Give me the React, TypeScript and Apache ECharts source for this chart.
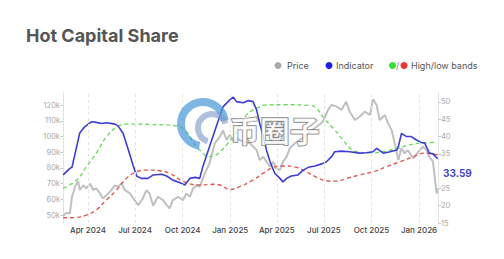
import React, { useEffect, useRef } from "react";
import * as echarts from "echarts";

const priceDates = [
  "2024-02-13","2024-02-19","2024-02-26","2024-03-01","2024-03-07","2024-03-13","2024-03-16","2024-03-23","2024-03-29","2024-04-05",
  "2024-04-11","2024-04-17","2024-04-24","2024-04-30","2024-05-07","2024-05-16","2024-05-23","2024-05-29","2024-06-05","2024-06-11",
  "2024-06-21","2024-06-30","2024-07-07","2024-07-16","2024-07-23","2024-07-29","2024-08-05","2024-08-14","2024-08-24","2024-08-31",
  "2024-09-06","2024-09-12","2024-09-22","2024-10-02","2024-10-08","2024-10-15","2024-10-21","2024-10-28","2024-11-03","2024-11-13",
  "2024-11-22","2024-12-02","2024-12-12","2024-12-18","2024-12-25","2024-12-31","2025-01-07","2025-01-13","2025-01-26","2025-02-08",
  "2025-02-21","2025-02-27","2025-03-06","2025-03-12","2025-03-19","2025-03-25","2025-03-31","2025-04-07","2025-04-13","2025-04-20",
  "2025-04-26","2025-05-06","2025-05-15","2025-05-25","2025-06-04","2025-06-17","2025-06-29","2025-07-09","2025-07-16","2025-07-26",
  "2025-08-04","2025-08-13","2025-08-20","2025-08-30","2025-09-08","2025-09-18","2025-09-28","2025-10-04","2025-10-11","2025-10-17",
  "2025-10-27","2025-11-02","2025-11-09","2025-11-15","2025-11-22","2025-11-28","2025-12-04","2025-12-10","2025-12-21","2026-01-02",
  "2026-01-09","2026-01-15","2026-01-21","2026-01-28","2026-02-01","2026-02-04","2026-02-06"
];
const priceValues = [
  49.5,51.5,51,61.7,68,71.5,66,69,67,70,
  66,67,63.8,60.6,62.7,65.9,69,68,70.2,66,
  63.8,59.6,56.4,60.6,65.9,63.8,56,61.7,59.6,56.4,
  54.3,59.6,61.7,59.6,63.8,61.7,67,69,68,76.6,
  83,95.7,99.9,104,97.8,101,97,98.9,96.7,95.7,
  91.4,85,87.1,84,80.8,84,79.7,78.7,84,87.1,
  92.5,95.7,97.8,99.9,103,106.2,109.4,116.9,120.1,119,
  116.9,122.2,115.8,110.5,112.6,115.8,113.7,123.7,120.1,110.5,
  113.7,108.4,104.1,95.7,85,92.5,89.3,91.4,86.1,91.4,
  93.5,91.4,87.1,84,72.3,63.8,67
];

const indicatorDates = [
  "2024-02-13","2024-02-26","2024-03-01","2024-03-16","2024-03-26","2024-04-08","2024-04-17","2024-04-27","2024-05-07","2024-05-23",
  "2024-05-29","2024-06-08","2024-06-17","2024-06-27","2024-07-04","2024-07-13","2024-07-26","2024-08-05","2024-08-21","2024-08-31",
  "2024-09-12","2024-09-25","2024-10-05","2024-10-15","2024-10-25","2024-11-03","2024-11-09","2024-11-22","2024-12-05","2024-12-18",
  "2024-12-31","2025-01-07","2025-01-13","2025-01-26","2025-02-05","2025-02-14","2025-02-21","2025-02-27","2025-03-06","2025-03-12",
  "2025-03-19","2025-03-28","2025-04-07","2025-04-13","2025-04-20","2025-04-29","2025-05-12","2025-05-22","2025-06-01","2025-06-14",
  "2025-06-27","2025-07-06","2025-07-16","2025-07-22","2025-08-04","2025-08-20","2025-09-08","2025-09-21","2025-10-04","2025-10-11",
  "2025-10-24","2025-11-06","2025-11-19","2025-11-22","2025-11-28","2025-12-08","2025-12-17","2025-12-27","2026-01-05","2026-01-12",
  "2026-01-21","2026-01-28","2026-02-06"
];
const indicatorValues = [
  28.9,30.8,31.1,41.0,42.9,44.3,44.1,43.8,44.0,43.6,
  43.1,40.9,36.6,31.8,28.6,27.9,27.9,28.9,29.1,28.6,
  27.4,26.7,26.0,27.9,28.2,27.9,31.3,37.1,42.9,48.6,
  50.6,51.4,50.1,49.8,50.4,50.1,47.7,43.8,40.0,36.1,
  32.7,29.4,27.9,26.9,27.9,28.6,28.9,30.3,31.1,31.5,
  32.1,32.7,34.2,35.6,35.8,35.6,35.2,35.3,35.6,36.6,
  35.2,35.6,36.1,37.1,40.9,40.0,40.0,39.0,38.3,38.1,
  35.2,35.0,33.59
];

const highDates = [
  "2024-02-13","2024-03-10","2024-03-29","2024-04-17","2024-05-07","2024-05-26","2024-06-14","2024-07-31","2024-09-19","2024-10-08",
  "2024-10-21","2024-11-03","2024-11-22","2024-12-05","2024-12-12","2024-12-25","2025-01-07","2025-01-19","2025-02-01","2025-02-14",
  "2025-02-27","2025-03-06","2025-04-15","2025-06-04","2025-06-17","2025-06-29","2025-07-19","2025-08-07","2025-08-23","2025-09-08",
  "2025-10-04","2025-10-30","2025-11-19","2025-12-14","2026-01-02","2026-01-28","2026-02-03"
];
const highValues = [
  25.0,27.4,31.3,35.2,40.0,42.7,43.6,43.5,43.1,41.4,
  38.5,36.1,34.2,34.7,35.5,37.6,40.2,43.1,46.2,47.7,
  48.6,49.1,49.2,49.0,48.2,45.7,42.4,39.0,36.3,35.5,
  35.3,35.8,36.6,37.6,38.1,38.3,38.4
];

const lowDates = [
  "2024-02-13","2024-03-10","2024-03-29","2024-04-17","2024-05-07","2024-05-26","2024-06-14","2024-07-04","2024-07-23","2024-08-18",
  "2024-09-06","2024-09-25","2024-10-15","2024-11-03","2024-11-29","2024-12-12","2024-12-31","2025-01-19","2025-02-14","2025-03-06",
  "2025-03-25","2025-04-13","2025-05-09","2025-05-28","2025-06-17","2025-07-06","2025-07-26","2025-08-14","2025-09-08","2025-10-04",
  "2025-10-30","2025-11-25","2025-12-21","2026-01-09","2026-01-28","2026-02-06"
];
const lowValues = [
  16.5,16.6,17.3,18.8,21.7,24.5,27.9,29.8,30.3,30.1,
  29.4,27.6,26.3,26.0,26.2,26.0,24.7,25.5,27.4,29.4,
  31.1,31.5,31.1,29.8,28.2,27.2,27.1,27.9,28.9,29.8,
  31.3,32.7,34.2,35.2,35.0,34.7
];

const xTickDates = ["2024-04-01","2024-07-01","2024-10-01","2025-01-01","2025-04-01","2025-07-01","2025-10-01","2026-01-01"];
const priceTicks = [50, 60, 70, 80, 90, 100, 110, 120];
const indicatorTicks = [15, 20, 25, 35, 40, 45, 50];
const MONTHS = ["Jan","Feb","Mar","Apr","May","Jun","Jul","Aug","Sep","Oct","Nov","Dec"];

const ts = (s: string) => new Date(s + "T00:00:00Z").getTime();
const pairs = (d: string[], v: number[]) => d.map((s, i) => [ts(s), v[i]]);

export default function App() {
  const ref = useRef<HTMLDivElement>(null);
  useEffect(() => {
    if (!ref.current) return;
    document.body.style.margin = "0";
    const chart = echarts.init(ref.current, null, { renderer: "svg" });
    const font = "Inter, 'Noto Sans', sans-serif";
    const xTicks = xTickDates.map(ts);
    const last = indicatorValues[indicatorValues.length - 1];
    const legendText = (x: number, text: string) => ({
      type: "text", left: x, top: 60.5,
      style: { text, fill: "#555", font: `9px ${font}` },
    });
    const dot = (x: number, color: string) => ({
      type: "circle", shape: { cx: x, cy: 65.5, r: 3.5 }, style: { fill: color },
    });
    chart.setOption({
      animation: false,
      title: {
        text: "Hot Capital Share", left: 26, top: 26, padding: 0,
        textStyle: { fontSize: 18, fontWeight: "bold", color: "#555", fontFamily: font },
      },
      grid: { left: 63, right: 66, top: 93, bottom: 36 },
      xAxis: {
        type: "value",
        min: ts("2024-02-12") + 16 * 3600e3,
        max: ts("2026-02-06") + 16 * 3600e3,
        axisLine: { show: false },
        axisTick: { show: false },
        splitLine: { show: false },
        axisLabel: {
          customValues: xTicks,
          margin: 3,
          color: "#444",
          fontSize: 8,
          fontWeight: 500,
          fontFamily: font,
          formatter: (v: number) => {
            const d = new Date(v);
            return `${MONTHS[d.getUTCMonth()]} ${d.getUTCFullYear()}`;
          },
        },
      },
      yAxis: [
        {
          type: "value", min: 45, max: 127.7, position: "left",
          axisLine: { show: true, lineStyle: { color: "#e2e2e2" } },
          axisTick: { show: true, customValues: priceTicks, length: 3, lineStyle: { color: "#ccc" } },
          splitLine: { show: false },
          axisLabel: { customValues: priceTicks, formatter: (v: number) => `${v}k`, color: "#aaa", fontSize: 7.5, margin: 3, fontFamily: font },
        },
        {
          type: "value", min: 15, max: 52.6, position: "right",
          axisLine: { show: true, lineStyle: { color: "#e2e2e2" } },
          axisTick: { show: true, customValues: indicatorTicks, length: 3, lineStyle: { color: "#ccc" } },
          splitLine: { show: false },
          axisLabel: { customValues: indicatorTicks, color: "#aaa", fontSize: 7.5, margin: 3, fontFamily: font },
        },
      ],
      series: [
        {
          name: "Price", type: "line", yAxisIndex: 0, showSymbol: false,
          data: pairs(priceDates, priceValues),
          lineStyle: { color: "#c0c0c0", width: 2 },
          markLine: {
            silent: true, symbol: ["none", "none"], label: { show: false },
            lineStyle: { color: "#e4e4e4", type: [3, 3], width: 1 },
            data: xTicks.map((t) => ({ xAxis: t })),
          },
          z: 1,
        },
        {
          name: "High band", type: "line", yAxisIndex: 1, showSymbol: false, smooth: 0.4,
          data: pairs(highDates, highValues),
          lineStyle: { color: "#6ddc5e", width: 1.4, type: [4, 3] },
          z: 2,
        },
        {
          name: "Low band", type: "line", yAxisIndex: 1, showSymbol: false, smooth: 0.4,
          data: pairs(lowDates, lowValues),
          lineStyle: { color: "#e05a55", width: 1.4, type: [4, 3] },
          z: 2,
        },
        {
          name: "Indicator", type: "line", yAxisIndex: 1, showSymbol: false,
          data: pairs(indicatorDates, indicatorValues),
          lineStyle: { color: "#3d3dd4", width: 1.6 },
          z: 3,
        },
      ],
      graphic: [
        dot(278, "#aaaaaa"), legendText(287, "Price"),
        dot(329, "#1f1fe0"), legendText(336, "Indicator"),
        dot(392.5, "#33e033"),
        { type: "text", left: 396, top: 60.5, style: { text: "/", fill: "#777", font: `9px ${font}` } },
        dot(404, "#ee3333"), legendText(411, "High/low bands"),
        {
          type: "text", left: 443, top: 168,
          style: { text: last.toFixed(2), fill: "#4747c8", font: `bold 10px ${font}` },
        },
        {
          type: "arc", shape: { cx: 203, cy: 124, r: 22, startAngle: Math.PI * 0.55, endAngle: Math.PI * 1.95 },
          style: { stroke: "rgba(70,150,215,0.7)", lineWidth: 8, fill: "none" }, z: 10,
        },
        {
          type: "arc", shape: { cx: 212, cy: 128, r: 14, startAngle: Math.PI * 0.6, endAngle: Math.PI * 1.9 },
          style: { stroke: "rgba(120,150,200,0.6)", lineWidth: 6, fill: "none" }, z: 10,
        },
        {
          type: "text", left: 229, top: 113, z: 10,
          style: {
            text: "币圈子", fill: "rgba(255,255,255,0.8)", stroke: "rgba(110,110,110,0.85)", lineWidth: 1.5,
            font: `bold 30px 'Noto Sans CJK SC', sans-serif`,
          },
        },
      ],
    });
    return () => chart.dispose();
  }, []);
  return <div ref={ref} style={{ width: 504, height: 259 }} />;
}
